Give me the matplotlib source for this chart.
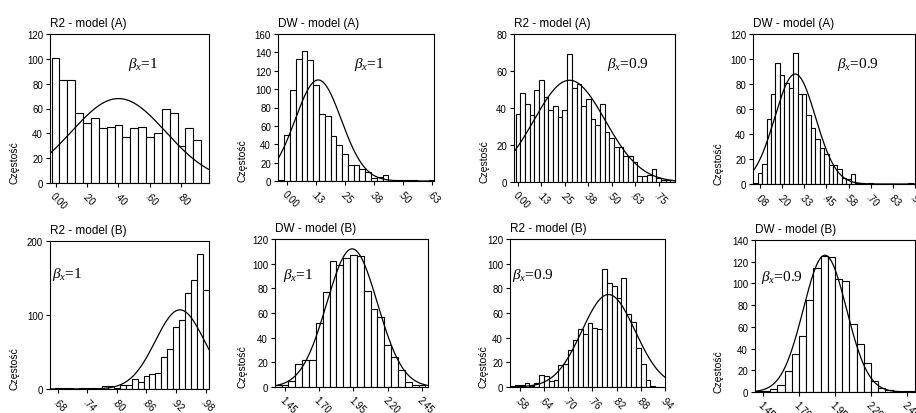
"""Histogramy R2 i DW dla modeli (A) i (B) z dopasowaną krzywą normalną."""

import matplotlib
matplotlib.use("Agg")
import matplotlib.pyplot as plt
import numpy as np

plt.rcParams["font.family"] = ["Liberation Sans", "DejaVu Sans"]
plt.rcParams["mathtext.fontset"] = "custom"
plt.rcParams["mathtext.it"] = "Liberation Serif:italic"
plt.rcParams["mathtext.rm"] = "Liberation Serif"

# --- dane -----------------------------------------------------------------
TITLES = ["R2 - model (A)", "DW - model (A)", "R2 - model (A)", "DW - model (A)",
          "R2 - model (B)", "DW - model (B)", "R2 - model (B)", "DW - model (B)"]
BETAS = ["1", "1", "0.9", "0.9", "1", "1", "0.9", "0.9"]

# liczebności w przedziałach (od lewej)
R2_A_B1 = [101, 83, 83, 56, 48, 52, 44, 45, 47, 37, 44, 45, 37, 40, 60, 56, 30, 44, 35, 0]
DW_A_B1 = [1, 50, 99, 133, 142, 132, 104, 73, 71, 49, 39, 29, 17, 17, 13, 10, 3, 4, 7, 0,
           1, 1, 1, 1, 0, 0, 1]
R2_A_B09 = [37, 48, 42, 36, 50, 55, 46, 39, 41, 35, 39, 69, 51, 53, 41, 45, 34, 31, 42, 27,
            24, 19, 19, 14, 14, 11, 3, 3, 4, 7, 2, 1, 1, 1]
DW_A_B09 = [1, 9, 16, 52, 72, 97, 87, 81, 77, 105, 72, 72, 55, 45, 36, 29, 24, 15, 15, 12,
            5, 4, 8, 1, 1, 0, 1, 0, 0, 0, 0, 0, 0, 0, 0, 1]
R2_B_B1 = [0, 1, 1, 1, 0, 1, 1, 1, 0, 4, 4, 2, 6, 6, 13, 10, 17, 20, 22, 43, 54, 84, 93,
           130, 147, 182, 134]
DW_B_B1 = [2, 2, 5, 19, 22, 22, 52, 77, 102, 99, 105, 107, 106, 78, 63, 57, 34, 24, 14, 4, 2, 2]
R2_B_B09 = [1, 2, 2, 3, 1, 3, 10, 9, 5, 6, 18, 19, 30, 38, 47, 43, 52, 48, 47, 96, 84, 82, 72,
            88, 59, 53, 32, 19, 6, 1, 0]
DW_B_B09 = [0.5, 1, 3, 6, 19, 35, 52, 85, 114, 125, 124, 104, 102, 63, 44, 27, 10, 4, 2, 1,
            0.5, 0.5]
COUNTS = [R2_A_B1, DW_A_B1, R2_A_B09, DW_A_B09, R2_B_B1, DW_B_B1, R2_B_B09, DW_B_B09]

# środek pierwszego przedziału i szerokość przedziału
BIN_FIRST = [0.0, -0.025, 0.0, 0.05, 0.668, 1.40, 0.562, 1.425]
BIN_WIDTH = [0.05, 0.025, 0.025, 0.025, 0.012, 0.05, 0.012, 0.05]

# dopasowany rozkład normalny: średnia, odchylenie, wysokość szczytu
FIT_MEAN = [0.40, 0.134, 0.275, 0.274, 0.928, 1.94, 0.80, 1.88]
FIT_SD = [0.30, 0.10, 0.19, 0.115, 0.05, 0.185, 0.066, 0.15]
FIT_PEAK = [68, 110, 55, 88, 107, 112, 75, 126]

XTICKS = [
    [0, 0.2, 0.4, 0.6, 0.8],
    [0, 0.125, 0.25, 0.375, 0.5, 0.625],
    [0, 0.125, 0.25, 0.375, 0.5, 0.625, 0.75],
    [0.075, 0.2, 0.325, 0.45, 0.575, 0.7, 0.825, 0.95],
    [0.68, 0.74, 0.80, 0.86, 0.92, 0.98],
    [1.45, 1.70, 1.95, 2.20, 2.45],
    [0.58, 0.64, 0.70, 0.76, 0.82, 0.88, 0.94],
    [1.45, 1.70, 1.95, 2.20, 2.45],
]
XLABELS = [
    ["0.00", ".20", ".40", ".60", ".80"],
    ["0.00", ".13", ".25", ".38", ".50", ".63"],
    ["0.00", ".13", ".25", ".38", ".50", ".63", ".75"],
    [".08", ".20", ".33", ".45", ".58", ".70", ".83", ".95"],
    [".68", ".74", ".80", ".86", ".92", ".98"],
    ["1.45", "1.70", "1.95", "2.20", "2.45"],
    [".58", ".64", ".70", ".76", ".82", ".88", ".94"],
    ["1.45", "1.70", "1.95", "2.20", "2.45"],
]
YMAX = [120, 160, 80, 120, 200, 120, 120, 140]
YSTEP = [20, 20, 20, 20, 100, 20, 20, 20]

# --- układ (piksele figury 916x414) -----------------------------------------
W, H = 916, 414
AXES_PX = [(50, 209, 35, 184), (278, 434, 35, 182), (514, 675, 35, 183), (753, 915, 35, 185),
           (50, 209, 242, 390), (275, 428, 240, 388), (510, 665, 240, 388), (755, 915, 241, 393)]
XLIM = [(-0.035, 0.975), (-0.04, 0.635), (-0.021, 0.8375), (0.036, 0.95),
        (0.664, 0.987), (1.377, 2.494), (0.556, 0.94), (1.394, 2.506)]
BETA_POS = [(0.49, 0.80), (0.49, 0.80), (0.58, 0.80), (0.52, 0.80),
            (0.01, 0.78), (0.05, 0.76), (0.01, 0.76), (0.04, 0.76)]
YLABEL_X = [15, 243, 484, 718, 15, 242, 483, 718]

fig = plt.figure(figsize=(W / 100, H / 100), dpi=100)

for i in range(8):
    l, r, t, b = AXES_PX[i]
    ax = fig.add_axes([l / W, 1 - b / H, (r - l) / W, (b - t) / H])

    counts = np.array(COUNTS[i], dtype=float)
    centers = BIN_FIRST[i] + BIN_WIDTH[i] * np.arange(len(counts))
    ax.bar(centers, counts, width=BIN_WIDTH[i], color="white",
           edgecolor="black", linewidth=0.8)

    xs = np.linspace(XLIM[i][0], XLIM[i][1], 300)
    ys = FIT_PEAK[i] * np.exp(-0.5 * ((xs - FIT_MEAN[i]) / FIT_SD[i]) ** 2)
    ax.plot(xs, ys, color="black", linewidth=0.9)

    ax.set_xlim(*XLIM[i])
    ax.set_ylim(0, YMAX[i])
    ax.set_yticks(np.arange(0, YMAX[i] + 1, YSTEP[i]))
    ax.set_xticks(XTICKS[i])
    ax.set_xticklabels(XLABELS[i], rotation=-45, ha="left", va="top",
                       rotation_mode="anchor")
    ax.tick_params(axis="both", labelsize=7, length=3, width=0.8, pad=2)
    for s in ax.spines.values():
        s.set_linewidth(0.8)

    ax.set_title(TITLES[i], loc="left", fontsize=8.5, pad=6)
    ax.text(*BETA_POS[i], r"$\beta_x$=" + BETAS[i], transform=ax.transAxes,
            ha="left", va="center", fontsize=11, family="Liberation Serif")

    fig.text(YLABEL_X[i] / W, 1 - b / H, "Częstość", rotation=90,
             ha="center", va="bottom", fontsize=7.5)

fig.savefig("out.png", dpi=100)
